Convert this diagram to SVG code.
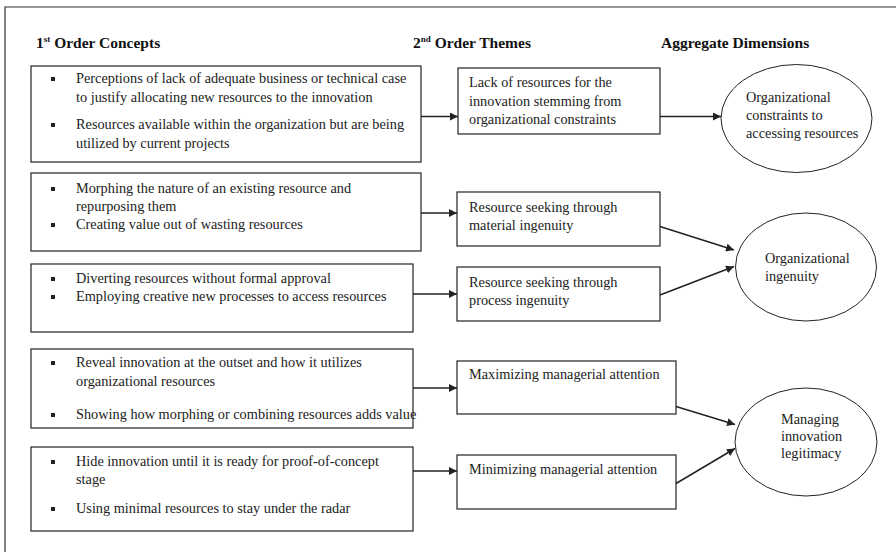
<svg xmlns="http://www.w3.org/2000/svg" width="896" height="552" viewBox="0 0 896 552">
<style>
text{font-family:"Liberation Serif","Times New Roman",serif;fill:#222}
.h{font-size:15.5px;font-weight:bold;fill:#111}
.sup{font-size:9px}
.t{font-size:14.3px}
.box{fill:#fff;stroke:#222;stroke-width:1.2}
.ell{fill:#fff;stroke:#222;stroke-width:1}
.b{fill:#222}
.c line{stroke:#222;stroke-width:1.5;marker-end:url(#ah)}
</style>
<defs>
<marker id="ah" viewBox="0 0 10 10" refX="10" refY="5" markerWidth="8" markerHeight="8" markerUnits="userSpaceOnUse" orient="auto">
<path d="M0,0 L10,5 L0,10 z" fill="#222"/>
</marker>
</defs>
<rect width="896" height="552" fill="#fff"/>
<path d="M5,552 V7 H896" fill="none" stroke="#333" stroke-width="1.2"/>

<g id="headers">
<text class="h" x="36" y="48">1<tspan class="sup" dy="-6">st</tspan><tspan dy="6"> Order Concepts</tspan></text>
<text class="h" x="413" y="48">2<tspan class="sup" dy="-6">nd</tspan><tspan dy="6"> Order Themes</tspan></text>
<text class="h" x="661" y="48">Aggregate Dimensions</text>
</g>

<g id="c1">
<rect class="box" x="31" y="66" width="390" height="96"/>
<rect class="b" x="51" y="77" width="4" height="4"/>
<rect class="b" x="51" y="123" width="4" height="4"/>
<text class="t" x="76" y="83">Perceptions of lack of adequate business or technical case</text>
<text class="t" x="76" y="102">to justify allocating new resources to the innovation</text>
<text class="t" x="76" y="129">Resources available within the organization but are being</text>
<text class="t" x="76" y="148">utilized by current projects</text>
</g>

<g id="c2">
<rect class="box" x="31" y="173" width="390" height="78"/>
<rect class="b" x="51" y="187" width="4" height="4"/>
<rect class="b" x="51" y="223" width="4" height="4"/>
<text class="t" x="76" y="193">Morphing the nature of an existing resource and</text>
<text class="t" x="76" y="211">repurposing them</text>
<text class="t" x="76" y="229">Creating value out of wasting resources</text>
</g>

<g id="c3">
<rect class="box" x="31" y="264" width="382" height="68"/>
<rect class="b" x="51" y="277" width="4" height="4"/>
<rect class="b" x="51" y="295" width="4" height="4"/>
<text class="t" x="76" y="283">Diverting resources without formal approval</text>
<text class="t" x="76" y="301">Employing creative new processes to access resources</text>
</g>

<g id="c4">
<rect class="box" x="31" y="349" width="382" height="79"/>
<rect class="b" x="51" y="361" width="4" height="4"/>
<rect class="b" x="51" y="413" width="4" height="4"/>
<text class="t" x="76" y="367">Reveal innovation at the outset and how it utilizes</text>
<text class="t" x="76" y="386">organizational resources</text>
<text class="t" x="76" y="419">Showing how morphing or combining resources adds value</text>
</g>

<g id="c5">
<rect class="box" x="31" y="447" width="382" height="84"/>
<rect class="b" x="51" y="460" width="4" height="4"/>
<rect class="b" x="51" y="507" width="4" height="4"/>
<text class="t" x="76" y="466">Hide innovation until it is ready for proof-of-concept</text>
<text class="t" x="76" y="484">stage</text>
<text class="t" x="76" y="513">Using minimal resources to stay under the radar</text>
</g>

<g id="t1">
<rect class="box" x="458" y="68" width="202" height="66"/>
<text class="t" x="469" y="87">Lack of resources for the</text>
<text class="t" x="469" y="106">innovation stemming from</text>
<text class="t" x="469" y="124">organizational constraints</text>
</g>

<g id="t2">
<rect class="box" x="457" y="192" width="203" height="54"/>
<text class="t" x="469" y="212">Resource seeking through</text>
<text class="t" x="469" y="230">material ingenuity</text>
</g>

<g id="t3">
<rect class="box" x="457" y="267" width="203" height="54"/>
<text class="t" x="469" y="287">Resource seeking through</text>
<text class="t" x="469" y="305">process ingenuity</text>
</g>

<g id="t4">
<rect class="box" x="457" y="361" width="219" height="53"/>
<text class="t" x="469" y="379">Maximizing managerial attention</text>
</g>

<g id="t5">
<rect class="box" x="457" y="455" width="219" height="54"/>
<text class="t" x="469" y="474">Minimizing managerial attention</text>
</g>

<g id="d1">
<ellipse class="ell" cx="796.5" cy="118.5" rx="75.5" ry="54"/>
<text class="t" x="746" y="102">Organizational</text>
<text class="t" x="746" y="120">constraints to</text>
<text class="t" x="746" y="138">accessing resources</text>
</g>

<g id="d2">
<ellipse class="ell" cx="806" cy="267" rx="70.5" ry="54"/>
<text class="t" x="765" y="263">Organizational</text>
<text class="t" x="765" y="281">ingenuity</text>
</g>

<g id="d3">
<ellipse class="ell" cx="806" cy="442" rx="71" ry="54"/>
<text class="t" x="781" y="424">Managing</text>
<text class="t" x="781" y="441">innovation</text>
<text class="t" x="781" y="458">legitimacy</text>
</g>

<g id="connectors" class="c">
<line x1="421" y1="116.5" x2="458" y2="116.5"/>
<line x1="660" y1="116.5" x2="721" y2="116.5"/>
<line x1="421" y1="213" x2="457" y2="213"/>
<line x1="413" y1="294" x2="457" y2="294"/>
<line x1="660" y1="226.5" x2="734" y2="250"/>
<line x1="660" y1="295" x2="734" y2="266.5"/>
<line x1="413" y1="388" x2="457" y2="388"/>
<line x1="413" y1="471" x2="457" y2="471"/>
<line x1="676" y1="406.5" x2="735" y2="424.5"/>
<line x1="676" y1="483.5" x2="735" y2="448.5"/>
</g>
</svg>
